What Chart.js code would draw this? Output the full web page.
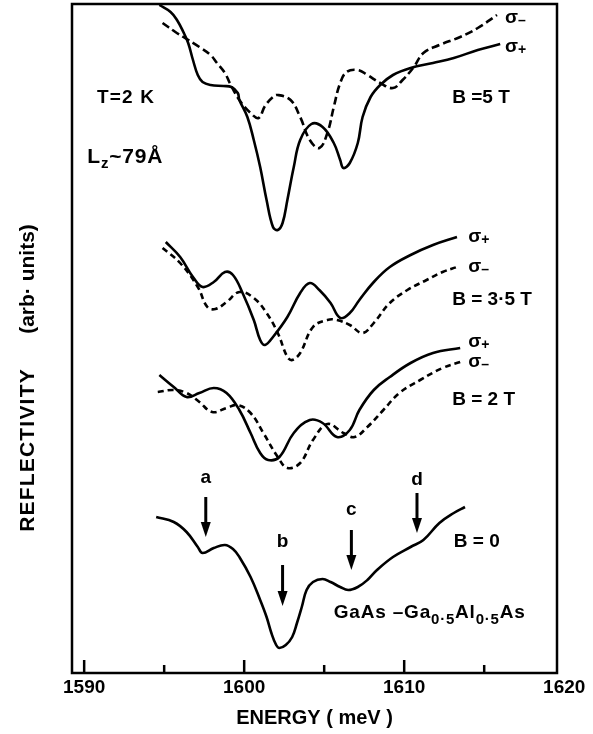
<!DOCTYPE html>
<html>
<head>
    <title>Reflectivity of GaAs quantum wells in a magnetic field</title>
    <script src="https://cdn.jsdelivr.net/npm/chart.js"></script>
    <style>
        body {
            margin: 0;
            background-color: #fff;
        }
        #reflChart {
            display: block;
        }
    </style>
</head>
<body>
    <canvas id="reflChart" width="593" height="734"></canvas>

    <script>
        // energy in meV, reflectivity in arb. units (curves offset vertically)
        var b5Plus = [
            [1594.7, 66.8], [1595.4, 66.1], [1595.8, 65.3], [1596.2, 64.1], [1596.5, 63.0], [1596.8, 61.3],
            [1597.1, 59.8], [1597.4, 59.1], [1597.9, 58.8], [1598.7, 58.7], [1599.2, 58.6], [1599.6, 58.0],
            [1599.7, 57.3], [1600.2, 55.6], [1600.6, 53.3], [1601.0, 50.6], [1601.4, 47.3], [1601.8, 44.6],
            [1602.1, 44.3], [1602.4, 45.0], [1602.7, 47.3], [1603.1, 50.6], [1603.5, 53.3], [1604.2, 54.9],
            [1604.9, 54.6], [1605.6, 53.0], [1606.0, 51.3], [1606.2, 50.5], [1606.6, 51.0], [1607.1, 53.0],
            [1607.4, 55.6], [1607.9, 57.6], [1608.5, 58.8], [1609.3, 59.8], [1610.4, 60.5], [1611.8, 61.0],
            [1613.1, 61.5], [1614.6, 62.3], [1616.0, 62.9]
        ];
        var b5Minus = [
            [1594.9, 65.0], [1595.7, 64.1], [1596.2, 63.6], [1597.2, 62.6], [1597.9, 61.8], [1598.3, 61.0],
            [1598.8, 60.0], [1599.1, 59.0], [1599.7, 57.3], [1600.4, 56.0], [1600.9, 55.5], [1601.3, 56.7],
            [1601.8, 57.6], [1602.1, 57.8], [1602.9, 57.3], [1603.5, 55.6], [1604.1, 53.3], [1604.7, 52.5],
            [1605.2, 54.0], [1605.6, 56.6], [1606.0, 59.0], [1606.4, 60.1], [1607.1, 60.3], [1607.7, 59.8],
            [1608.5, 59.0], [1609.3, 58.5], [1609.9, 59.3], [1610.6, 60.6], [1611.2, 62.0], [1612.2, 62.8],
            [1613.5, 63.6], [1614.6, 64.5], [1615.8, 65.8]
        ];
        var b35Plus = [
            [1595.1, 43.1], [1596.0, 41.6], [1596.8, 39.6], [1597.4, 38.6], [1598.1, 39.1], [1598.8, 40.1],
            [1599.3, 39.8], [1599.9, 38.0], [1600.6, 35.3], [1601.0, 33.3], [1601.3, 32.8], [1601.8, 33.6],
            [1602.7, 35.6], [1603.5, 38.0], [1604.1, 39.0], [1604.7, 38.3], [1605.4, 37.0], [1606.0, 35.5],
            [1606.6, 36.0], [1607.2, 37.3], [1608.1, 39.1], [1609.1, 40.6], [1610.4, 41.8], [1611.8, 42.8],
            [1613.3, 43.6]
        ];
        var b35Minus = [
            [1594.9, 42.5], [1596.0, 41.0], [1597.1, 38.6], [1597.7, 36.6], [1598.2, 36.4], [1598.9, 37.1],
            [1599.7, 38.1], [1600.6, 37.5], [1601.4, 36.0], [1602.1, 34.0], [1602.7, 31.6], [1603.0, 31.3],
            [1603.5, 32.0], [1604.3, 34.6], [1605.2, 35.3], [1605.8, 35.3], [1606.6, 34.8], [1607.4, 34.0],
            [1608.1, 35.0], [1609.1, 37.0], [1610.2, 38.3], [1611.4, 39.3], [1612.4, 40.1], [1613.3, 40.6]
        ];
        var b2Plus = [
            [1594.7, 29.8], [1595.6, 28.6], [1596.4, 27.6], [1597.2, 28.0], [1598.1, 28.5], [1598.9, 28.0],
            [1599.7, 26.3], [1600.4, 24.0], [1601.0, 22.0], [1601.5, 21.3], [1602.2, 21.6], [1603.1, 24.0],
            [1604.1, 25.3], [1604.9, 25.0], [1605.8, 23.6], [1606.6, 24.3], [1607.2, 26.3], [1608.1, 28.3],
            [1609.1, 29.6], [1610.4, 31.0], [1611.8, 32.0], [1613.5, 32.5]
        ];
        var b2Minus = [
            [1594.6, 28.1], [1595.6, 28.3], [1596.4, 28.0], [1597.2, 27.1], [1598.0, 26.1], [1598.9, 26.5],
            [1599.6, 26.8], [1600.4, 26.0], [1601.2, 24.0], [1602.1, 21.6], [1602.7, 20.5], [1603.5, 21.0],
            [1604.3, 23.3], [1605.2, 24.9], [1606.2, 24.0], [1606.9, 23.6], [1607.7, 24.6], [1608.7, 26.3],
            [1609.7, 28.0], [1611.0, 29.3], [1612.4, 30.5], [1613.5, 31.1]
        ];
        var b0 = [
            [1594.5, 15.6], [1595.6, 15.1], [1596.4, 14.1], [1597.1, 12.6], [1597.4, 12.0], [1598.1, 12.5],
            [1598.8, 12.8], [1599.3, 12.4], [1599.7, 11.6], [1600.4, 9.6], [1601.0, 7.3], [1601.4, 5.6],
            [1601.7, 4.0], [1602.0, 2.8], [1602.2, 2.5], [1602.6, 2.8], [1603.0, 3.6], [1603.3, 5.0],
            [1603.6, 6.6], [1603.9, 8.3], [1604.3, 9.1], [1604.9, 9.4], [1605.4, 9.1], [1606.0, 8.6],
            [1606.5, 8.3], [1607.1, 8.6], [1607.7, 9.3], [1608.3, 10.3], [1609.3, 11.6], [1610.4, 12.6],
            [1611.2, 13.3], [1612.2, 15.0], [1613.1, 16.0], [1613.8, 16.6]
        ];

        // transitions marked on the B = 0 spectrum
        var peakNames = ['a', 'b', 'c', 'd'];
        var peakEnergies = [1597.6, 1602.4, 1606.7, 1610.8];

        var tickValues = [1590, 1595, 1600, 1605, 1610, 1615, 1620];

        // annotation anchors: [energy, reflectivity]
        var arrowSpans = [[17.6, 13.6], [10.8, 6.7], [14.3, 10.3], [18.0, 14.0]];
        var arrowLabelY = [19.5, 13.1, 16.3, 19.3];
        var plainNotes = [
            ['T=2 K', 1590.8, 57.5, 1.2],
            ['B =5 T', 1613.0, 57.5, 0],
            ['B = 3\u00b75 T', 1613.0, 37.3, 0],
            ['B = 2 T', 1613.0, 27.3, 0],
            ['B = 0', 1613.1, 13.1, 0]
        ];
        var sigmaNotes = [
            ['\u2013', 1616.3, 65.5], ['+', 1616.3, 62.6],
            ['+', 1614.0, 43.6], ['\u2013', 1614.0, 40.6],
            ['+', 1614.0, 33.1], ['\u2013', 1614.0, 31.1]
        ];

        var FONT = '"Liberation Sans", Arial, sans-serif';

        function pts(arr) {
            return arr.map(function(p) { return {x: p[0], y: p[1]}; });
        }
        function line(arr, dashed, dash) {
            return {
                data: pts(arr),
                borderColor: '#000',
                borderWidth: 2.6,
                borderDash: dashed ? dash : [],
                pointRadius: 0,
                fill: false,
                tension: 0.4
            };
        }

        function richText(ctx, segs, x, y, spacing, size) {
            ctx.letterSpacing = spacing + 'px';
            segs.forEach(function(s) {
                ctx.font = 'bold ' + (s[1] ? 15 : size) + 'px ' + FONT;
                ctx.fillText(s[0], x, y + (s[1] ? 7 : 0));
                x += ctx.measureText(s[0]).width;
            });
            ctx.letterSpacing = '0px';
        }

        var decorations = {
            id: 'decorations',
            afterDraw: function(chart) {
                var ctx = chart.ctx, a = chart.chartArea;
                var xs = chart.scales.x, ys = chart.scales.y;
                ctx.save();
                ctx.strokeStyle = '#000';
                ctx.fillStyle = '#000';

                // frame
                ctx.lineWidth = 2.5;
                ctx.strokeRect(a.left, a.top, a.right - a.left, a.bottom - a.top);

                // inward ticks
                tickValues.forEach(function(v) {
                    var px = xs.getPixelForValue(v);
                    if (px <= a.left + 2 || px >= a.right - 2) return;
                    var len = v % 10 === 0 ? 13 : 8;
                    ctx.beginPath();
                    ctx.moveTo(px, a.bottom);
                    ctx.lineTo(px, a.bottom - len);
                    ctx.stroke();
                });

                // y title
                ctx.save();
                ctx.translate(28, 0);
                ctx.rotate(-Math.PI / 2);
                ctx.textAlign = 'center';
                ctx.textBaseline = 'middle';
                ctx.font = 'bold 21px ' + FONT;
                ctx.letterSpacing = '1.2px';
                ctx.fillText('REFLECTIVITY', -450, 0);
                ctx.letterSpacing = '0px';
                ctx.fillText('(arb\u00b7 units)', -279, 0);
                ctx.restore();

                ctx.textBaseline = 'middle';
                ctx.textAlign = 'left';

                plainNotes.forEach(function(n) {
                    ctx.font = 'bold 19px ' + FONT;
                    ctx.letterSpacing = n[3] + 'px';
                    ctx.fillText(n[0], xs.getPixelForValue(n[1]), ys.getPixelForValue(n[2]));
                });
                ctx.letterSpacing = '0px';

                sigmaNotes.forEach(function(n) {
                    var px = xs.getPixelForValue(n[1]), py = ys.getPixelForValue(n[2]);
                    ctx.font = 'bold 19px ' + FONT;
                    ctx.fillText('\u03c3', px, py);
                    var w = ctx.measureText('\u03c3').width;
                    ctx.font = 'bold 14px ' + FONT;
                    ctx.fillText(n[0], px + w, py + 3);
                });

                richText(ctx, [['L', 0], ['z', 1], ['~79\u00c5', 0]],
                    xs.getPixelForValue(1590.2), ys.getPixelForValue(51.6), 0.8, 21);
                richText(ctx, [['GaAs \u2013Ga', 0], ['0\u00b75', 1], ['Al', 0], ['0\u00b75', 1], ['As', 0]],
                    xs.getPixelForValue(1605.6), ys.getPixelForValue(6.0), 0.8, 19);

                // arrows a-d
                ctx.textAlign = 'center';
                peakEnergies.forEach(function(e, i) {
                    var px = xs.getPixelForValue(e);
                    var y1 = ys.getPixelForValue(arrowSpans[i][0]);
                    var y2 = ys.getPixelForValue(arrowSpans[i][1]);
                    ctx.lineWidth = 3;
                    ctx.beginPath();
                    ctx.moveTo(px, y1);
                    ctx.lineTo(px, y2 - 12);
                    ctx.stroke();
                    ctx.beginPath();
                    ctx.moveTo(px - 5, y2 - 15);
                    ctx.lineTo(px + 5, y2 - 15);
                    ctx.lineTo(px, y2);
                    ctx.closePath();
                    ctx.fill();
                    ctx.font = 'bold 19px ' + FONT;
                    ctx.fillText(peakNames[i], px, ys.getPixelForValue(arrowLabelY[i]));
                });

                ctx.restore();
            }
        };

        var ctx = document.getElementById('reflChart').getContext('2d');
        var reflChart = new Chart(ctx, {
            type: 'line',
            data: {
                datasets: [
                    line(b5Plus, false),
                    line(b5Minus, true, [8, 4]),
                    line(b35Plus, false),
                    line(b35Minus, true, [6, 4]),
                    line(b2Plus, false),
                    line(b2Minus, true, [6, 4]),
                    line(b0, false)
                ]
            },
            options: {
                responsive: false,
                animation: false,
                devicePixelRatio: 1,
                layout: {
                    padding: {left: 72, right: 36, top: 4, bottom: 0}
                },
                plugins: {
                    legend: {display: false},
                    tooltip: {enabled: false}
                },
                scales: {
                    x: {
                        type: 'linear',
                        min: 1589.24,
                        max: 1619.55,
                        afterBuildTicks: function(s) {
                            s.ticks = tickValues.map(function(v) { return {value: v}; });
                        },
                        afterFit: function(s) { s.height = 61; },
                        grid: {display: false},
                        border: {display: false},
                        ticks: {
                            autoSkip: false,
                            maxRotation: 0,
                            padding: -5,
                            color: '#000',
                            font: {family: FONT, size: 19, weight: 'bold'},
                            callback: function(v) { return v % 10 === 0 ? String(v) : ''; }
                        },
                        title: {
                            display: true,
                            text: 'ENERGY ( meV )',
                            color: '#000',
                            font: {family: FONT, size: 20, weight: 'bold'},
                            padding: {top: 2, bottom: 4}
                        }
                    },
                    y: {
                        display: false,
                        min: 0,
                        max: 66.9
                    }
                }
            },
            plugins: [decorations]
        });
    </script>
</body>
</html>
